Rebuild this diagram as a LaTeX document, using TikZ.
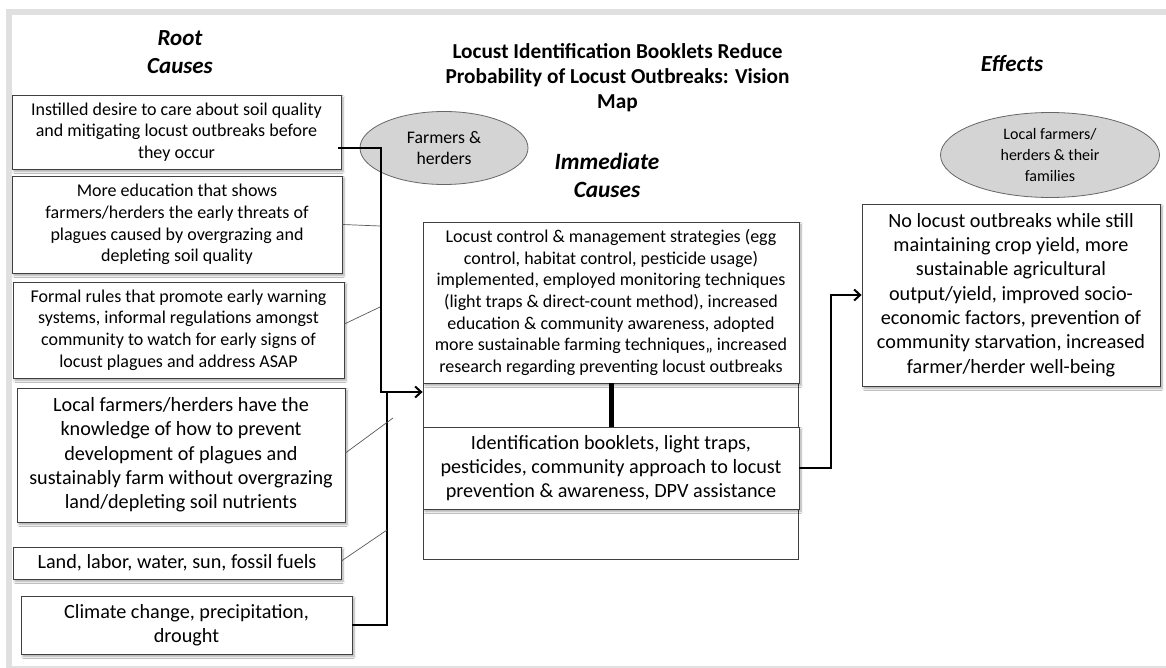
\documentclass[tikz,border=0pt]{standalone}
\usepackage{fontspec}
\setmainfont{Carlito}
\usetikzlibrary{shapes.geometric,shadows.blur,arrows.meta}
\newcommand\ftA{\fontsize{18}{21.7}\selectfont}
\newcommand\ftB{\fontsize{20.2}{24.3}\selectfont}
\newcommand\ftC{\fontsize{17.7}{21.5}\selectfont}
\newcommand\ftD{\fontsize{16}{21}\selectfont}
\newcommand\ftHead{\fontsize{23}{28}\selectfont\bfseries\itshape}
\newcommand\ftTitle{\fontsize{21.3}{25}\selectfont\bfseries}
\begin{document}
\begin{tikzpicture}[x=1pt,y=-1pt]
\tikzset{
  box/.style={draw=black!75, line width=0.8pt, fill=white, align=center, inner sep=0pt,
    blur shadow={shadow xshift=2pt,shadow yshift=-2.5pt,shadow blur steps=6,shadow opacity=35}},
  oval/.style={ellipse, draw=black!60, line width=0.8pt, fill=black!17, align=center, inner sep=0pt},
  head/.style={align=center, inner sep=0pt},
  thickline/.style={line width=2.2pt, black},
  thinline/.style={line width=0.7pt, black!65},
  arr/.style={-{Straight Barb[length=6pt,width=11pt,line width=2pt]}}
}
\useasboundingbox (0,0) rectangle (1166,668);
\fill[white] (0,0) rectangle (1166,668);
% frame
\fill[black!12] (6,9) rectangle (1166,668);
\fill[white] (12,15) rectangle (1166,665.5);

% headings
\node[head, font=\ftHead] (hroot) at (180,52) {Root\\Causes};
\node[head, font=\ftTitle] (title) at (617.5,78) {Locust Identification Booklets Reduce\\Probability of Locust Outbreaks: Vision\\Map};
\node[head, font=\fontsize{23.3}{28}\selectfont\bfseries\itshape] (himm) at (607,175) {Immediate\\Causes};
\node[head, font=\ftHead] (heff) at (1012,64) {Effects};

% ellipses
\node[oval, minimum width=168, minimum height=73, font=\ftC] (e1) at (444,148) {Farmers \&\\herders};
\node[oval, minimum width=219, minimum height=85, font=\ftD] (e2) at (1050,155) {Local farmers/\\herders \& their\\families};

% left boxes
\node[box, minimum width=329, minimum height=74, font=\ftA] (b1) at (176.5,132) {Instilled desire to care about soil quality\\and mitigating locust outbreaks before\\they occur};
\node[box, minimum width=330, minimum height=97, font=\ftA] (b2) at (177,224.5) {More education that shows\\farmers/herders the early threats of\\plagues caused by overgrazing and\\depleting soil quality};
\node[box, minimum width=331, minimum height=96, font=\ftA] (b3) at (178.5,330) {Formal rules that promote early warning\\systems, informal regulations amongst\\community to watch for early signs of\\locust plagues and address ASAP};
\node[box, minimum width=328, minimum height=134, font=\ftB] (b4) at (181,455) {Local farmers/herders have the\\knowledge of how to prevent\\development of plagues and\\sustainably farm without overgrazing\\land/depleting soil nutrients};
\node[box, minimum width=328, minimum height=32, font=\ftB] (b5) at (177,563) {Land, labor, water, sun, fossil fuels};
\node[box, minimum width=331, minimum height=58, font=\ftB] (b6) at (186.5,625) {Climate change, precipitation,\\drought};

% center
\node[draw=black!75, line width=0.8pt, fill=white, minimum width=375, minimum height=337, inner sep=0pt] (outer) at (610.5,390.5) {};
\node[box, minimum width=376, minimum height=161, font=\ftA] (c1) at (611,302.5) {Locust control \& management strategies (egg\\control, habitat control, pesticide usage)\\implemented, employed monitoring techniques\\(light traps \& direct-count method), increased\\education \& community awareness, adopted\\more sustainable farming techniques,, increased\\research regarding preventing locust outbreaks};
\node[box, minimum width=376, minimum height=82, font=\ftB] (c2) at (611,468) {Identification booklets, light traps,\\pesticides, community approach to locust\\prevention \& awareness, DPV assistance};

% right
\node[box, minimum width=298, minimum height=182, font=\ftB] (r1) at (1011,295) {No locust outbreaks while still\\maintaining crop yield, more\\sustainable agricultural\\output/yield, improved socio-\\economic factors, prevention of\\community starvation, increased\\farmer/herder well-being};

% connectors
\coordinate (ja) at (381,148);
\coordinate (jb) at (381,392);
\coordinate (jc) at (387,625);
\draw[thickline, arr] ([xshift=-3pt,yshift=-16pt]b1.east) -- (ja) -- (jb) -- (outer.west |- jb);
\draw[thickline] (b6.east |- jc) -- (jc) -- (387,392);
\draw[thinline] ([yshift=0pt]b2.east) -- (380,226);
\draw[thinline] ([yshift=6pt]b3.east) -- (380,307);
\draw[thinline] ([yshift=2pt]b4.east) -- (393,418);
\draw[thinline] ([yshift=2pt]b5.east) -- (387,530);
\draw[line width=5pt] (c1.south) -- (c2.north);
\coordinate (jr) at (831,295);
\draw[thickline, arr] (c2.east) -| (jr) -- (r1.west);
\end{tikzpicture}
\end{document}
